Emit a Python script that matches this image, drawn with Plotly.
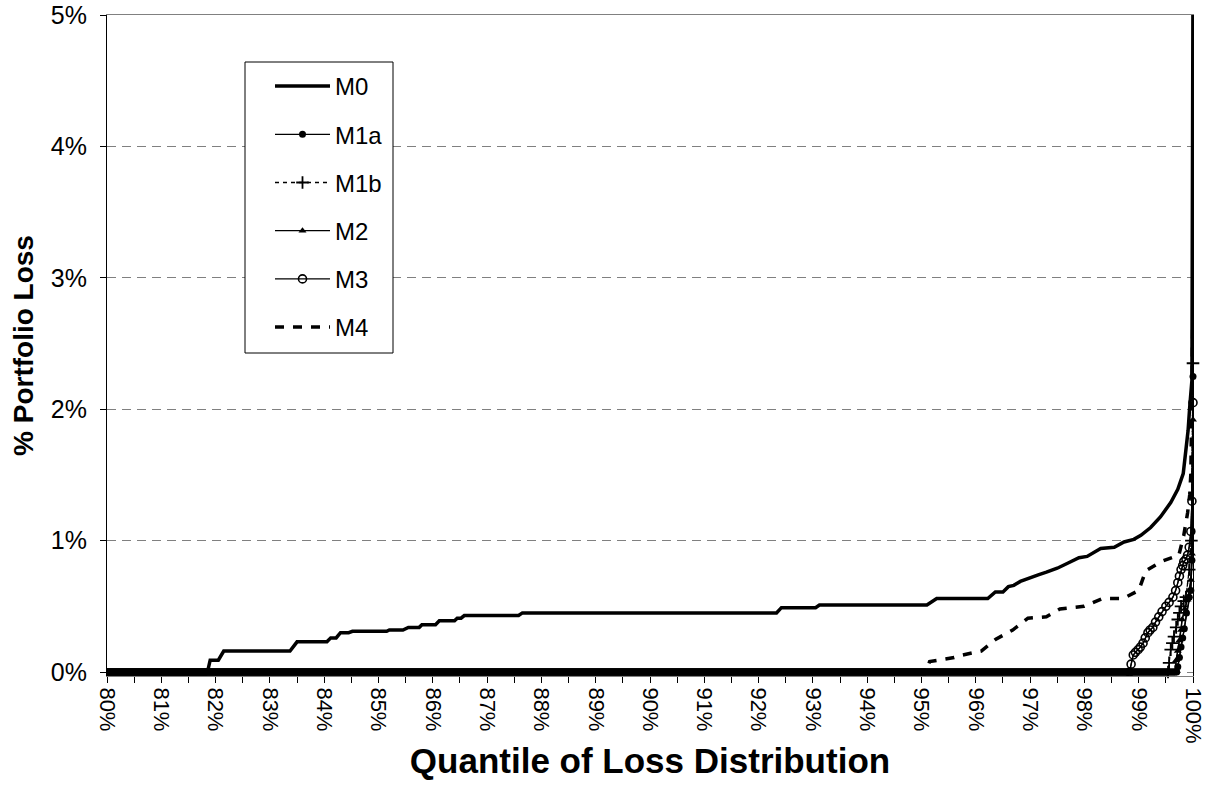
import plotly.graph_objects as go

# ---------------- data ----------------
M0_x = [80, 81.85, 81.9, 82.05, 82.15, 83.37, 83.5, 84.05, 84.12, 84.22, 84.3, 84.45, 84.52,
        85.15, 85.2, 85.45, 85.55, 85.75, 85.8, 86.05, 86.12, 86.4, 86.45, 86.52, 86.58,
        87.58, 87.65, 92.33, 92.42, 93.05, 93.12, 95.1, 95.28, 96.22, 96.36, 96.5, 96.6,
        96.7, 96.82, 97.0, 97.15, 97.3, 97.5, 97.7, 97.9, 98.05, 98.17, 98.3, 98.55, 98.73,
        98.91, 99.04, 99.22, 99.4, 99.59, 99.72, 99.82, 99.87, 99.91, 99.94, 99.98, 100]
M0_y = [0, 0, 0.09, 0.09, 0.16, 0.16, 0.23, 0.23, 0.26, 0.26, 0.30, 0.30, 0.31,
        0.31, 0.32, 0.32, 0.34, 0.34, 0.36, 0.36, 0.39, 0.39, 0.41, 0.41, 0.43,
        0.43, 0.45, 0.45, 0.49, 0.49, 0.51, 0.51, 0.56, 0.56, 0.61, 0.61, 0.65,
        0.66, 0.69, 0.72, 0.74, 0.76, 0.79, 0.83, 0.87, 0.88, 0.91, 0.94, 0.95, 0.99,
        1.01, 1.04, 1.10, 1.18, 1.29, 1.39, 1.51, 1.67, 1.84, 2.02, 2.22, 5.3]

M1a_x = [80, 99.70, 99.72, 99.75, 99.78, 99.81, 99.84, 99.88, 99.93, 99.96, 99.98, 100]
M1a_y = [0, 0, 0.04, 0.11, 0.19, 0.26, 0.33, 0.45, 0.57, 0.62, 0.85, 2.25]

M1b_x = [80, 99.54, 99.56, 99.59, 99.62, 99.65, 99.69, 99.72, 99.75, 99.78, 99.83, 99.87, 99.93, 99.97, 100]
M1b_y = [0, 0, 0.07, 0.17, 0.22, 0.27, 0.34, 0.40, 0.45, 0.50, 0.54, 0.57, 0.78, 1.00, 2.35]

M2_x = [80, 99.67, 99.69, 99.72, 99.75, 99.78, 99.80, 99.85, 99.90, 99.93, 99.96, 99.98, 100]
M2_y = [0, 0, 0.09, 0.16, 0.24, 0.32, 0.40, 0.48, 0.55, 0.62, 0.70, 0.90, 1.92]

M3_x = [80, 98.83, 98.86, 98.90, 98.94, 98.99, 99.03, 99.08, 99.12, 99.17, 99.21, 99.26, 99.31,
        99.37, 99.43, 99.50, 99.56, 99.63, 99.68, 99.72, 99.75, 99.78, 99.81, 99.83, 99.87,
        99.90, 99.93, 99.96, 99.98, 100]
M3_y = [0, 0, 0.06, 0.13, 0.15, 0.17, 0.19, 0.22, 0.26, 0.30, 0.32, 0.34, 0.38,
        0.42, 0.46, 0.50, 0.53, 0.57, 0.62, 0.68, 0.73, 0.78, 0.81, 0.84, 0.86,
        0.89, 0.95, 1.07, 1.30, 2.05]

M4_x = [80, 95.08, 95.15, 95.40, 95.60, 95.76, 96.00, 96.10, 96.37, 96.68, 96.96, 97.30, 97.55,
        97.99, 98.34, 98.71, 99.00, 99.13, 99.41, 99.74, 99.83, 99.90, 99.94, 99.96, 99.97, 100]
M4_y = [0, 0, 0.08, 0.10, 0.11, 0.13, 0.15, 0.16, 0.25, 0.32, 0.41, 0.42, 0.48,
        0.50, 0.56, 0.56, 0.62, 0.77, 0.84, 0.89, 1.04, 1.21, 1.35, 1.51, 1.82, 2.80]

series_names = ["M0", "M1a", "M1b", "M2", "M3", "M4"]
x_tick_vals = list(range(80, 101))
y_tick_vals = [0, 1, 2, 3, 4, 5]

FONT = "Liberation Sans, Arial, sans-serif"

fig = go.Figure()


def zero_run(xs, ys):
    """Leading part of a series that is still zero."""
    last = 0
    for i, v in enumerate(ys):
        if v == 0:
            last = i
        else:
            break
    return xs[: last + 1], ys[: last + 1], last


styles = {
    "M0": dict(line=dict(color="black", width=3.5), mode="lines"),
    "M1a": dict(line=dict(color="black", width=1.3), mode="lines+markers",
                marker=dict(symbol="circle", size=7, color="black")),
    "M1b": dict(line=dict(color="black", width=1.3, dash="4px,4px"), mode="lines+markers",
                marker=dict(symbol="cross-thin", size=9, color="black",
                            line=dict(color="black", width=1.8))),
    "M2": dict(line=dict(color="black", width=1.3), mode="lines+markers",
               marker=dict(symbol="triangle-up", size=7, color="black")),
    "M3": dict(line=dict(color="black", width=1.3), mode="lines+markers",
               marker=dict(symbol="circle-open", size=8, color="black",
                           line=dict(color="black", width=1.6))),
    "M4": dict(line=dict(color="black", width=3.5, dash="9px,9px"), mode="lines"),
}

data = {
    "M0": (M0_x, M0_y), "M1a": (M1a_x, M1a_y), "M1b": (M1b_x, M1b_y),
    "M2": (M2_x, M2_y), "M3": (M3_x, M3_y), "M4": (M4_x, M4_y),
}

# thick band along zero: the overlapping zero-valued points of every series
for name in series_names:
    xs, ys = data[name]
    zx, zy, _ = zero_run(xs, ys)
    fig.add_trace(go.Scatter(x=zx, y=zy, mode="lines", line=dict(color="black", width=7),
                             showlegend=False, hoverinfo="skip", cliponaxis=False))

for name in series_names:
    xs, ys = data[name]
    _, _, last = zero_run(xs, ys)
    st = styles[name]
    fig.add_trace(go.Scatter(x=xs, y=ys, name=name, mode="lines", line=st["line"],
                             legendgroup=name, showlegend=(st["mode"] == "lines")))
    if st["mode"] != "lines":
        fig.add_trace(go.Scatter(x=xs[last:], y=ys[last:], name=name, mode="lines+markers",
                                 line=st["line"], marker=st["marker"], legendgroup=name,
                                 showlegend=True, cliponaxis=False))

FIG_W, FIG_H = 1209, 799
PL, PR, PT, PB = 107, 1193, 15, 676          # plot area in pixels
W, H = PR - PL, PB - PT

# legend frame (drawn as a box so the entries can sit with the original padding)
box = dict(x0=(245 - PL) / W, x1=(393 - PL) / W, y0=(PB - 353) / H, y1=(PB - 62) / H)
fig.add_shape(type="rect", xref="paper", yref="paper", **box,
              line=dict(color="black", width=1), fillcolor="white", layer="above")

fig.update_layout(
    width=FIG_W, height=FIG_H,
    paper_bgcolor="white", plot_bgcolor="white",
    margin=dict(l=PL, r=FIG_W - PR, t=PT, b=FIG_H - PB, pad=0),
    font=dict(family=FONT, size=22, color="black"),
    showlegend=True,
    legend=dict(
        x=(270 - PL) / W, y=(PB - 64) / H, xanchor="left", yanchor="top",
        bgcolor="rgba(0,0,0,0)", borderwidth=0,
        font=dict(family=FONT, size=24, color="black"),
        itemwidth=55, traceorder="grouped", tracegroupgap=14,
    ),
    xaxis=dict(
        range=[80, 100], tickvals=x_tick_vals, ticktext=[f"{v}%" for v in x_tick_vals],
        tickangle=90, ticks="outside", ticklen=6, tickcolor="black", tickwidth=1,
        minor=dict(dtick=0.5, tick0=80, ticks="outside", ticklen=6, tickcolor="black", showgrid=False),
        showgrid=False, zeroline=False, showline=True, linecolor="#808080", mirror=True,
        tickfont=dict(family=FONT, size=22, color="black"), automargin=False,
        title=dict(text="<b>Quantile of Loss Distribution</b>", font=dict(family=FONT, size=35), standoff=5),
    ),
    yaxis=dict(
        range=[-0.03, 5], tickvals=y_tick_vals, ticktext=[f"{v}%" for v in y_tick_vals],
        ticks="outside", ticklen=6, tickcolor="black",
        showgrid=True, gridcolor="#808080", gridwidth=1, griddash="9px,6px",
        zeroline=False, showline=True, linecolor="black", mirror=True,
        tickfont=dict(family=FONT, size=25, color="black"), ticklabelstandoff=8, automargin=False,
        title=dict(text="<b>% Portfolio Loss</b>", font=dict(family=FONT, size=28), standoff=9),
    ),
)

# the page's default 8px body margin would shift the figure; remove it
fig.write_html("out.html", config={"displayModeBar": False},
               post_script="document.body.style.margin='0px';")
